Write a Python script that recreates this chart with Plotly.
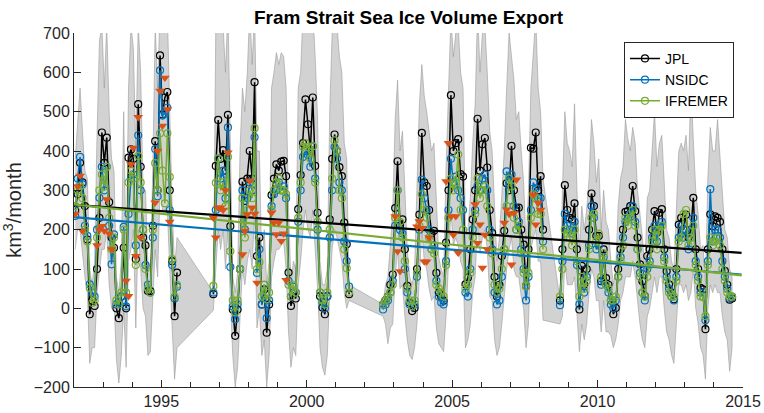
import plotly.graph_objects as go

N = None
start_year = 1992
# Monthly values, one row per year (Jan..Dec), from Jan 1992 to Aug 2014
jpl = [
    250, 290, 370, 320, 260, 175, -15, 20, 6, 100, 230, 447,      # 1992
    370, 434, 270, 180, 154, 0, -25, 30, 154, 0, 383, 404,        # 1993
    380, 125, 519, 360, 180, 160, 44, 44, 210, 425, 300, 643,     # 1994
    493, 536, 550, 300, 120, -20, 91, N, N, N, N, N,              # 1995
    N, N, N, N, N, N, N, N, N, 36, 362, 479,                      # 1996
    380, 402, 350, 492, 209, -3, -70, -3, 100, 322, 273, 330,     # 1997
    400, 330, 575, 133, 180, 10, 48, -62, 10, 288, 330, 366,      # 1998
    350, 373, 375, 336, 91, 6, 40, 25, 252, 339, 420, 531,        # 1999
    468, 400, 536, 362, 243, 31, 2, -15, 31, 226, 380, 442,       # 2000
    400, 359, 336, 218, 163, 36, N, N, N, N, N, N,                # 2001
    N, N, N, N, N, N, N, 10, 20, 30, 60, 86,                      # 2002
    255, 374, 210, 226, 150, 57, 14, -7, 1, 100, 238, 446,        # 2003
    320, 311, 250, 191, 197, 90, 40, 30, 19, 167, 300, 542,       # 2004
    400, 420, 430, 341, 335, 61, 78, 150, 226, 300, 482, 350,     # 2005
    417, 433, 358, 250, 192, 80, 30, 60, 133, 197, 318, 300,      # 2006
    413, 300, 255, 256, 200, 162, 57, 150, 408, 406, 447, 300,    # 2007
    336, 200, N, N, N, N, N, N, 20, 150, 313, 250,                # 2008
    230, 226, 267, 150, -3, 108, 60, 100, 200, 292, 260, 184,     # 2009
    184, 69, 150, 77, 60, 20, -15, 1, 100, 150, 200, 245,         # 2010
    247, 260, 311, 247, 180, 112, 69, 31, 133, 150, 200, 247,     # 2011
    192, 243, 252, 150, 94, 61, 40, 23, 100, 213, 230, 200,       # 2012
    238, 180, 200, 281, 150, 100, 52, 48, -53, 150, 239, 209,     # 2013
    234, 230, 220, 150, 95, 60, 22, 25,                           # 2014
]
nsidc = [
    235, 330, 385, 315, 210, 184, 61, 40, 30, 200, 281, 360,      # 1992
    300, 360, 210, 112, 188, 10, 15, 30, 207, 5, 240, 330,        # 1993
    340, 160, 440, 300, 200, 110, 60, 40, 180, 405, 285, 605,     # 1994
    490, 495, 510, 250, 110, 25, 55, N, N, N, N, N,               # 1995
    N, N, N, N, N, N, N, N, N, 40, 250, 380,                      # 1996
    330, 350, 280, 460, 105, 5, -28, 10, 100, 300, 200, 280,      # 1997
    320, 300, 435, 90, 150, 10, 60, -25, 20, 260, 290, 300,       # 1998
    320, 300, 310, 280, 70, 30, 55, 40, 220, 300, 385, 400,       # 1999
    390, 360, 412, 330, 200, 40, 15, 0, 30, 180, 300, 410,        # 2000
    380, 320, 300, 170, 120, 55, N, N, N, N, N, N,                # 2001
    N, N, N, N, N, N, N, -3, 10, 20, 40, 70,                      # 2002
    210, 300, 200, 190, 100, 40, 10, 5, 10, 80, 200, 327,         # 2003
    280, 250, 200, 150, 160, 70, 30, 15, 10, 120, 250, 380,       # 2004
    320, 335, 300, 280, 250, 40, 30, 100, 200, 250, 310, 300,     # 2005
    330, 340, 300, 200, 150, 40, 10, 20, 80, 150, 348, 320,       # 2006
    340, 260, 200, 220, 150, 100, 20, 80, 250, 320, 305, 280,     # 2007
    280, 170, N, N, N, N, N, N, 8, 120, 240, 210,                 # 2008
    200, 190, 220, 110, 10, 80, 40, 80, 160, 260, 230, 150,       # 2009
    160, 60, 130, 60, 40, 10, 0, 20, 80, 130, 180, 220,           # 2010
    230, 240, 260, 220, 150, 90, 40, 20, 100, 120, 180, 210,      # 2011
    170, 210, 220, 130, 80, 50, 30, 20, 80, 180, 210, 180,        # 2012
    200, 150, 180, 230, 120, 80, 40, 30, -30, 120, 303, 170,      # 2013
    200, 200, 180, 120, 80, 50, 25, 30,                           # 2014
]
ifremer = [
    260, 300, 310, 280, 200, 170, 52, 14, 20, 180, 300, 340,      # 1992
    310, 360, 230, 150, 180, 20, 10, 40, 200, 40, 320, 350,       # 1993
    330, 110, 387, 320, 200, 100, 50, 40, 200, 369, 300, 445,     # 1994
    350, 267, 445, 334, 125, 30, 60, N, N, N, N, N,               # 1995
    N, N, N, N, N, N, N, N, N, 57, 319, 381,                      # 1996
    300, 320, 260, 385, 145, 20, -10, 20, 100, 280, 180, 250,     # 1997
    300, 280, 458, 100, 117, 30, 60, 23, 40, 250, 300, 320,       # 1998
    330, 300, 300, 290, 60, 30, 60, 40, 230, 320, 410, 420,       # 1999
    410, 380, 412, 320, 220, 40, 20, 10, 40, 200, 330, 427,       # 2000
    400, 300, 280, 150, 102, 40, N, N, N, N, N, N,                # 2001
    N, N, N, N, N, N, N, 10, 20, 30, 40, 60,                      # 2002
    230, 300, 220, 180, 120, 50, 20, 5, 20, 90, 210, 290,         # 2003
    250, 230, 180, 150, 140, 60, 50, 40, 30, 110, 230, 330,       # 2004
    300, 320, 391, 250, 200, 50, 60, 90, 180, 240, 330, 280,      # 2005
    300, 310, 260, 180, 140, 60, 40, 50, 100, 150, 260, 330,      # 2006
    310, 230, 200, 210, 140, 90, 57, 90, 230, 290, 280, 240,      # 2007
    240, 150, N, N, N, N, N, N, 30, 100, 200, 190,                # 2008
    180, 160, 200, 120, 30, 80, 50, 70, 150, 230, 240, 170,       # 2009
    190, 80, 140, 60, 50, 20, 20, 30, 80, 120, 160, 230,          # 2010
    210, 230, 250, 210, 150, 80, 40, 30, 80, 110, 170, 200,       # 2011
    150, 200, 210, 120, 70, 40, 30, 30, 70, 170, 180, 240,        # 2012
    250, 160, 180, 210, 110, 70, 30, 30, -20, 110, 180, 160,      # 2013
    170, 180, 160, 100, 70, 40, 30, 30,                           # 2014
]
# additional winter-only estimates (orange triangles)
winter_obs = [
    240, 310, 337, 197, N, N, N, N, N, 160, 200, 209,             # 1992
    197, 277, 190, 150, N, N, N, N, N, 70, 31, 366,               # 1993
    408, 133, 486, 180, N, N, N, N, N, 269, 400, 553,             # 1994
    464, 586, 506, 220, N, N, N, N, N, N, N, N,                   # 1995
    N, N, N, N, N, N, N, N, N, 230, 180, 256,                     # 1996
    256, 250, 300, 396, N, N, N, N, N, 137, 197, 239,             # 1997
    324, 256, 240, 65, N, N, N, N, N, 243, 218, 188,              # 1998
    218, 171, 190, 72, N, N, N, N, N, N, N, N,                    # 1999
    N, N, N, N, N, N, N, N, N, N, N, N,                           # 2000
    N, N, N, N, N, N, N, N, N, N, N, N,                           # 2001
    N, N, N, N, N, N, N, N, N, N, N, N,                           # 2002
    234, 145, 94, N, N, N, N, N, N, 208, 221, 204,                # 2003
    119, 119, 180, N, N, N, N, N, N, 323, 420, 234,               # 2004
    187, 234, 141, N, N, N, N, N, N, 264, 166, 213,               # 2005
    103, 187, 150, N, N, N, N, N, N, 217, 251, 240,               # 2006
    111, 242, 327, N, N, N, N, N, N, 289, 213, 268,               # 2007
    250, N, N, N, N, N, N, N, N, N, N, N,                         # 2008
]
# uncertainty envelope (upper / lower)
band_hi = [
    380, 460, 560, 450, 350, 330, 100, 60, 120, 440, 680, 720,    # 1992
    560, 720, 500, 380, 350, 80, 40, 120, 500, 120, 560, 720,     # 1993
    660, 400, 720, 600, 300, 300, 120, 100, 350, 720, 560, 760,   # 1994
    760, 760, 760, 500, 260, 100, 180, N, N, N, N, N,             # 1995
    N, N, N, N, N, N, N, N, N, 40, 720, 760,                      # 1996
    720, 720, 600, 760, 450, 80, 40, 90, 400, 560, 500, 600,      # 1997
    760, 620, 760, 400, 400, 100, 200, 60, 120, 560, 600, 650,    # 1998
    620, 650, 640, 560, 260, 60, 120, 100, 560, 600, 760, 760,    # 1999
    760, 720, 760, 640, 480, 120, 60, 60, 100, 500, 700, 760,     # 2000
    720, 640, 600, 420, 380, 60, N, N, N, N, N, N,                # 2001
    N, N, N, N, N, N, N, 10, 60, 80, 160, 250,                    # 2002
    480, 580, 400, 450, 300, 150, 80, 60, 100, 330, 520, 620,     # 2003
    540, 500, 450, 400, 420, 250, 130, 100, 80, 360, 560, 740,    # 2004
    640, 700, 720, 600, 560, 200, 200, 280, 420, 520, 760, 600,   # 2005
    700, 720, 600, 450, 400, 250, 120, 180, 300, 400, 560, 700,   # 2006
    640, 580, 480, 500, 400, 320, 160, 300, 560, 660, 740, 560,   # 2007
    500, 330, N, N, N, N, N, N, 20, 300, 500, 420,                # 2008
    400, 360, 520, 300, 150, 260, 200, 250, 330, 480, 420, 320,   # 2009
    380, 200, 300, 220, 200, 120, 60, 100, 260, 330, 360, 480,    # 2010
    430, 400, 460, 420, 300, 240, 180, 100, 280, 300, 400, 500,   # 2011
    360, 420, 440, 300, 200, 180, 120, 100, 250, 400, 420, 400,   # 2012
    440, 350, 560, 420, 300, 240, 150, 160, 60, 330, 460, 400,    # 2013
    400, 480, 380, 300, 200, 180, 100, 80,                        # 2014
]
band_lo = [
    150, 200, 200, 150, 80, 40, -140, -100, -100, 40, 100, 150,   # 1992
    150, 200, 60, 0, 20, -130, -190, -120, 0, -150, 120, 150,     # 1993
    200, -50, 200, 100, 0, -20, -120, -110, 0, 150, 80, 300,      # 1994
    250, 250, 250, 100, -50, -180, -100, N, N, N, N, N,           # 1995
    N, N, N, N, N, N, N, N, N, -5, 100, 200,                      # 1996
    150, 200, 100, 200, 20, -120, -200, -150, -30, 100, 60, 120,  # 1997
    150, 100, 250, -50, 0, -120, -80, -200, -120, 80, 120, 150,   # 1998
    150, 160, 170, 100, -60, -150, -100, -120, 60, 120, 200, 250, # 1999
    200, 180, 250, 150, 50, -100, -150, -170, -120, 40, 150, 200, # 2000
    180, 150, 120, 40, 0, 20, N, N, N, N, N, N,                   # 2001
    N, N, N, N, N, N, N, -20, -40, -90, -50, -40,                 # 2002
    80, 150, 50, 60, -20, -80, -120, -130, -100, -40, 80, 200,    # 2003
    120, 100, 50, 20, 30, -50, -90, -100, -110, -20, 100, 250,    # 2004
    160, 180, 160, 120, 100, -100, -80, -40, 40, 80, 220, 140,    # 2005
    180, 200, 150, 30, 20, -80, -120, -100, -40, 20, 100, 150,    # 2006
    180, 100, 80, 80, 30, 0, -100, -40, 150, 180, 200, 120,       # 2007
    120, -30, N, N, N, N, N, N, -40, -20, 120, 60,                # 2008
    60, 60, 80, 0, -110, -40, -80, -40, 40, 100, 80, 20,          # 2009
    20, -60, 20, -60, -60, -70, -100, -80, -40, 20, 40, 80,       # 2010
    80, 80, 120, 80, 20, -40, -80, -100, -20, 0, 40, 80,          # 2011
    40, 80, 80, 0, -60, -80, -118, -140, -40, 60, 60, 40,         # 2012
    60, 20, 40, 100, 0, -40, -100, -118, -180, 0, 60, 40,         # 2013
    60, 40, 40, -20, -60, -80, -160, -100,                        # 2014
]
# linear trends (value at start and end of the trend period)
trend_years = [1992.0, 2014.95]
jpl_trend = [263, 141]
nsidc_trend = [232, 86]
ifremer_trend = [264, 84]

n = len(jpl)
t = [start_year + i // 12 + ((i % 12) + 0.5) / 12 for i in range(n)]

BLACK = "#000000"
BLUE = "#0072BD"
GREEN = "#77AC30"
ORANGE = "#D95319"

fig = go.Figure()

# envelope polygon (connects across data gaps)
valid = [i for i in range(n) if band_hi[i] is not None]
bx = [t[i] for i in valid] + [t[i] for i in reversed(valid)]
by = [band_hi[i] for i in valid] + [band_lo[i] for i in reversed(valid)]
fig.add_trace(go.Scatter(x=bx, y=by, fill="toself", mode="lines",
                         fillcolor="rgb(210,210,210)",
                         line=dict(color="rgb(155,155,155)", width=0.6),
                         showlegend=False, hoverinfo="skip"))

for name, vals, col in [("JPL", jpl, BLACK), ("NSIDC", nsidc, BLUE), ("IFREMER", ifremer, GREEN)]:
    fig.add_trace(go.Scatter(x=t, y=vals, name=name, mode="lines+markers",
                             line=dict(color=col, width=1.5),
                             marker=dict(symbol="circle-open", size=7, color=col,
                                         line=dict(width=1.2, color=col)),
                             connectgaps=False))

for vals, col in [(jpl_trend, BLACK), (nsidc_trend, BLUE), (ifremer_trend, GREEN)]:
    fig.add_trace(go.Scatter(x=trend_years, y=vals, mode="lines",
                             line=dict(color=col, width=2.2), showlegend=False))

fig.add_trace(go.Scatter(x=t, y=winter_obs, mode="markers", showlegend=False,
                         marker=dict(symbol="triangle-down", size=8.5, color=ORANGE,
                                     line=dict(width=0))))

FONT = "Liberation Sans, Arial, Helvetica, sans-serif"
fig.update_layout(
    width=764, height=413,
    margin=dict(l=74, r=21, t=33, b=26, autoexpand=False),
    paper_bgcolor="white", plot_bgcolor="white",
    font=dict(family=FONT, size=16, color="#262626"),
    title=dict(text="<b>Fram Strait Sea Ice Volume Export</b>", x=0.5, xref="paper",
               y=1 - 17 / 413, yref="container", yanchor="middle", xanchor="center",
               font=dict(size=19, color="#000000", family=FONT)),
    legend=dict(x=0.9865, y=0.975, xanchor="right", yanchor="top",
                bgcolor="white", bordercolor="#262626", borderwidth=1,
                font=dict(size=14, color="#000000"), tracegroupgap=0,
                itemwidth=30),
    showlegend=True,
)
fig.update_xaxes(range=[1992, 2015], showline=True, linecolor="#262626", linewidth=1,
                 ticks="inside", ticklen=7, tickcolor="#262626", automargin=False,
                 tickmode="array", tickvals=[1995, 2000, 2005, 2010, 2015],
                 minor=dict(tickmode="array", tickvals=list(range(1992, 2016)),
                            ticks="inside", ticklen=5, tickcolor="#262626"),
                 showgrid=False, zeroline=False, mirror=False)
fig.update_yaxes(range=[-200, 700], showline=True, linecolor="#262626", linewidth=1,
                 ticks="inside", ticklen=7, tickcolor="#262626", dtick=100,
                 showgrid=False, zeroline=False, mirror=False, automargin=False,
                 title=dict(text="km<sup>3</sup>/month", font=dict(size=20), standoff=8))

fig.write_html("out.html", config={"displayModeBar": False},
               post_script="document.body.style.margin='0';document.body.style.padding='0';")
